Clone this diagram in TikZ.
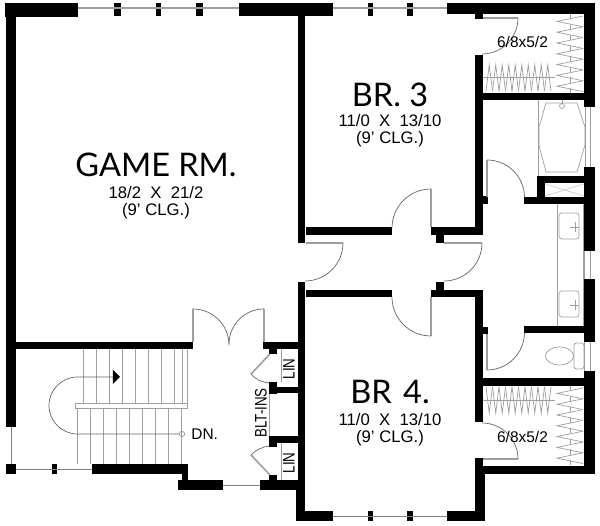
\documentclass[tikz,border=0pt]{standalone}
\usepackage{fontspec}
\setmainfont{Liberation Sans}
\newfontfamily\roomfont{Lato}
\newfontfamily\narrowfont[FakeStretch=0.8]{Liberation Sans}
\usetikzlibrary{positioning}
\tikzstyle{wall} = [fill=black, draw=none]
\tikzstyle{thin} = [draw=black!38, line width=0.4pt]
\tikzstyle{door} = [draw=black!38, line width=0.9pt]
\tikzstyle{swing} = [draw=black!60, line width=0.4pt]
\tikzstyle{glass} = [draw=black!50, line width=0.45pt]
\tikzstyle{roomname} = [font=\roomfont\fontsize{18.5}{19}\selectfont, inner sep=0pt]
\tikzstyle{dim} = [align=center, font=\fontsize{9.5}{9.8}\selectfont, inner sep=0pt]
\tikzstyle{lbl} = [font=\fontsize{8.8}{9}\selectfont, inner sep=0pt]
\tikzstyle{narrow} = [font=\narrowfont\fontsize{9.5}{10}\selectfont, inner sep=0pt]
\newcommand{\wallbox}[4]{\fill[wall] (#1,-#2) rectangle (#3,-#4);}
\begin{document}
\begin{tikzpicture}[x=0.02cm, y=0.02cm, node distance=0.72cm]
\useasboundingbox (0,0) rectangle (600,-526);

% outer walls
\wallbox{5}{3}{78}{17}
\wallbox{6}{3}{16}{427}
\wallbox{239}{3}{333}{16}
\wallbox{298}{3}{305.5}{243}
\wallbox{114}{3}{121}{16}
\wallbox{156}{3}{161}{16}
\wallbox{196}{3}{203}{16}
\wallbox{368}{3}{373}{16}
\wallbox{407}{3}{413}{16}
\wallbox{447}{3}{595}{14}
\wallbox{475}{14}{483}{19}
\wallbox{584}{3}{595}{107}
\wallbox{584}{167}{595}{251}
\wallbox{584}{279}{595}{342}
\wallbox{584}{371}{595}{474}
\wallbox{475}{466}{595}{474}
\wallbox{475}{458}{483}{474}
\wallbox{475}{466}{485}{521}
\wallbox{447}{511}{485}{521}
\wallbox{296}{511}{333}{521}
\wallbox{368}{511}{373}{521}
\wallbox{407}{511}{413}{521}

% room walls
\wallbox{475}{55}{483}{235}
\wallbox{475}{93}{595}{100}
\wallbox{306}{227}{392}{235}
\wallbox{431}{227}{483}{235}
\wallbox{436}{235}{444}{243}
\wallbox{306}{290}{392}{297}
\wallbox{431}{290}{483}{297}
\wallbox{436}{282}{444}{290}
\wallbox{475}{290}{483}{422}
\wallbox{475}{378}{595}{386}
\wallbox{298}{282}{305.5}{490}
\wallbox{296}{490}{305.5}{521}
\wallbox{6}{342}{193}{349}
\wallbox{6}{464}{16}{474}
\wallbox{52}{464}{57}{474}
\wallbox{92}{464}{188}{474}
\wallbox{182}{474}{188}{480}
\wallbox{178}{480}{223}{490}
\wallbox{260}{480}{305}{490}
\wallbox{263}{342}{298}{349}
\wallbox{269}{349}{277}{354}
\wallbox{269}{382}{277}{394}
\wallbox{277}{387}{298}{393}
\wallbox{269}{436}{277}{447}
\wallbox{277}{436}{298}{443}
\wallbox{269}{475}{277}{480}

% bath walls
\wallbox{537}{176}{584}{183}
\wallbox{537}{176}{545}{204}
\wallbox{524}{197}{584}{204}
\wallbox{524}{326}{584}{333}
\wallbox{483}{196}{488}{204}
\wallbox{483}{327}{488}{334}

% windows
\draw[door] (78,-8) -- (239,-8);
\draw[door] (333,-8) -- (447,-8);
\draw[glass] (11,-427) -- (11,-464);
\draw[glass] (16,-469) -- (92,-469);
\draw[glass] (223,-485) -- (260,-485);
\draw[glass] (333,-516) -- (447,-516);
\draw[thin] (584,-251) -- (584,-279) (590,-251) -- (590,-279);
\draw[thin] (585,-107) -- (585,-167) (590,-107) -- (590,-167);
\draw[thin] (584,-342) -- (584,-371) (590,-342) -- (590,-371);

% doors
\draw[door] (306,-243) -- (343,-243);
\draw[swing] (343,-243) arc (0:-90:38);
\draw[door] (444,-243) -- (482,-243);
\draw[swing] (482,-243) arc (0:-90:38);
\draw[door] (431,-189) -- (431,-227);
\draw[swing] (431,-189) arc (90:180:39);
\draw[door] (431,-297) -- (431,-336);
\draw[swing] (431,-336) arc (-90:-180:39);
\draw[door] (487,-160) -- (487,-197);
\draw[swing] (487,-160) arc (90:0:37.5);
\draw[door] (487,-334) -- (487,-370);
\draw[swing] (487,-370) arc (-90:0:37.5);
\draw[door] (483,-18) -- (518,-18);
\draw[swing] (518,-18) arc (0:-90:36);
\draw[door] (483,-459) -- (518,-459);
\draw[swing] (518,-459) arc (0:90:36);
\draw[door] (193,-309) -- (193,-342);
\draw[swing] (193,-309) arc (90:0:36);
\draw[door] (264,-309) -- (264,-342);
\draw[swing] (264,-309) arc (90:180:35);
\draw[door] (270,-354) -- (251,-374);
\draw[swing] (251,-374) .. controls (256,-380) and (262,-382) .. (269,-383);
\draw[door] (270,-475) -- (251,-455);
\draw[swing] (251,-455) .. controls (256,-450) and (262,-447) .. (269,-446);

% stairs
\foreach \i in {0,...,7} \draw[thin] ({83+13*\i},-349) -- ({83+13*\i},-403);
\draw[thin] (182,-349) -- (182,-403);
\draw[thin] (187,-349) -- (187,-408);
\foreach \i in {0,...,8} \draw[thin] ({77+13.1*\i},-408) -- ({77+13.1*\i},-464);
\draw[thin] (75,-403) rectangle (187,-408);
\draw[swing] (113,-377) -- (77.5,-377) arc (90:270:28.5) -- (179.5,-434);
\fill[black] (113,-370) -- (120,-377) -- (113,-384) -- cycle;
\node (dnmark) [circle, draw=black!50, line width=0.3pt, inner sep=0pt, minimum size=3pt] at (182,-434) {};
\node (dn) [lbl, right=3.5pt of dnmark] {DN.};

% closet rods
\draw[thin] (483,-77) -- (555,-77);
\foreach \i in {0,...,9} \draw[thin] ({486+6.5*\i},-91) -- ({489.25+6.5*\i},-65) -- ({492.5+6.5*\i},-91);
\draw[thin,dashed] (570,-14) -- (570,-93);
\foreach \i in {0,...,6} \draw[thin] (583,{-16-10.8*\i}) -- (557,{-21.4-10.8*\i}) -- (583,{-26.8-10.8*\i});
\draw[thin] (483,-400) -- (555,-400);
\foreach \i in {0,...,9} \draw[thin] ({486+6.5*\i},-387) -- ({489.25+6.5*\i},-413) -- ({492.5+6.5*\i},-387);
\draw[thin,dashed] (570,-386) -- (570,-466);
\foreach \i in {0,...,6} \draw[thin] (583,{-388-10.8*\i}) -- (557,{-393.4-10.8*\i}) -- (583,{-398.8-10.8*\i});

% tub
\draw[thin] (538,-100) -- (538,-176);
\draw[thin] (546,-103) -- (577,-103) -- (585,-127) -- (585,-145) -- (577,-172) -- (546,-172) -- (539,-145) -- (539,-127) -- cycle;
\draw[thin] (562,-100) -- (562,-104);
\draw[thin] (562,-106) circle (2.5);
% box below tub
\draw[draw=black!25, line width=0.3pt] (545,-184) -- (584,-196) (545,-196) -- (584,-184);

% counter
\draw[thin] (557,-204) -- (557,-326);
\draw[thin] (583,-204) -- (583,-326);
\draw[thin, rounded corners=1.5pt] (559,-213) rectangle (579,-239);
\draw[thin, rounded corners=1.5pt] (559,-291) rectangle (579,-317);
\draw[thin] (570,-227) -- (579,-227) (575,-222) -- (575,-232);
\draw[thin] (570,-305) -- (579,-305) (575,-300) -- (575,-310);

% toilet
\draw[thin, rounded corners=1.5pt] (574,-343) rectangle (584,-369);
\draw[thin] (559.5,-356) ellipse (14 and 9);

% closets
\draw[thin] (269,-394) -- (269,-436);
\draw[thin] (281,-349) -- (281,-382);
\draw[thin] (281,-443) -- (281,-480);

% labels
\node (gamerm) [roomname] at (156,-165) {GAME RM.};
\node (gamedim) [dim, below of=gamerm, yshift=-0.03cm] {18/2\ \ X\ \ 21/2\\(9' CLG.)};
\node (br3) [roomname] at (390,-95) {BR.\ 3};
\node (br3dim) [dim, below of=br3] {11/0\ \ X\ \ 13/10\\(9' CLG.)};
\node (br4) [roomname] at (390,-391.5) {BR\hspace{.1em} 4.};
\node (br4dim) [dim, below of=br4, yshift=-0.05cm] {11/0\ \ X\ \ 13/10\\(9' CLG.)};
\node (wic1) [lbl] at (522.5,-42) {6/8x5/2};
\node (wic2) [lbl] at (522.5,-437) {6/8x5/2};
\node (lin1) [narrow, rotate=90] at (289,-369) {LIN};
\node (lin2) [narrow, rotate=90] at (289,-463) {LIN};
\node (blt) [narrow, rotate=90] at (261,-413) {BLT-INS};
\end{tikzpicture}
\end{document}
